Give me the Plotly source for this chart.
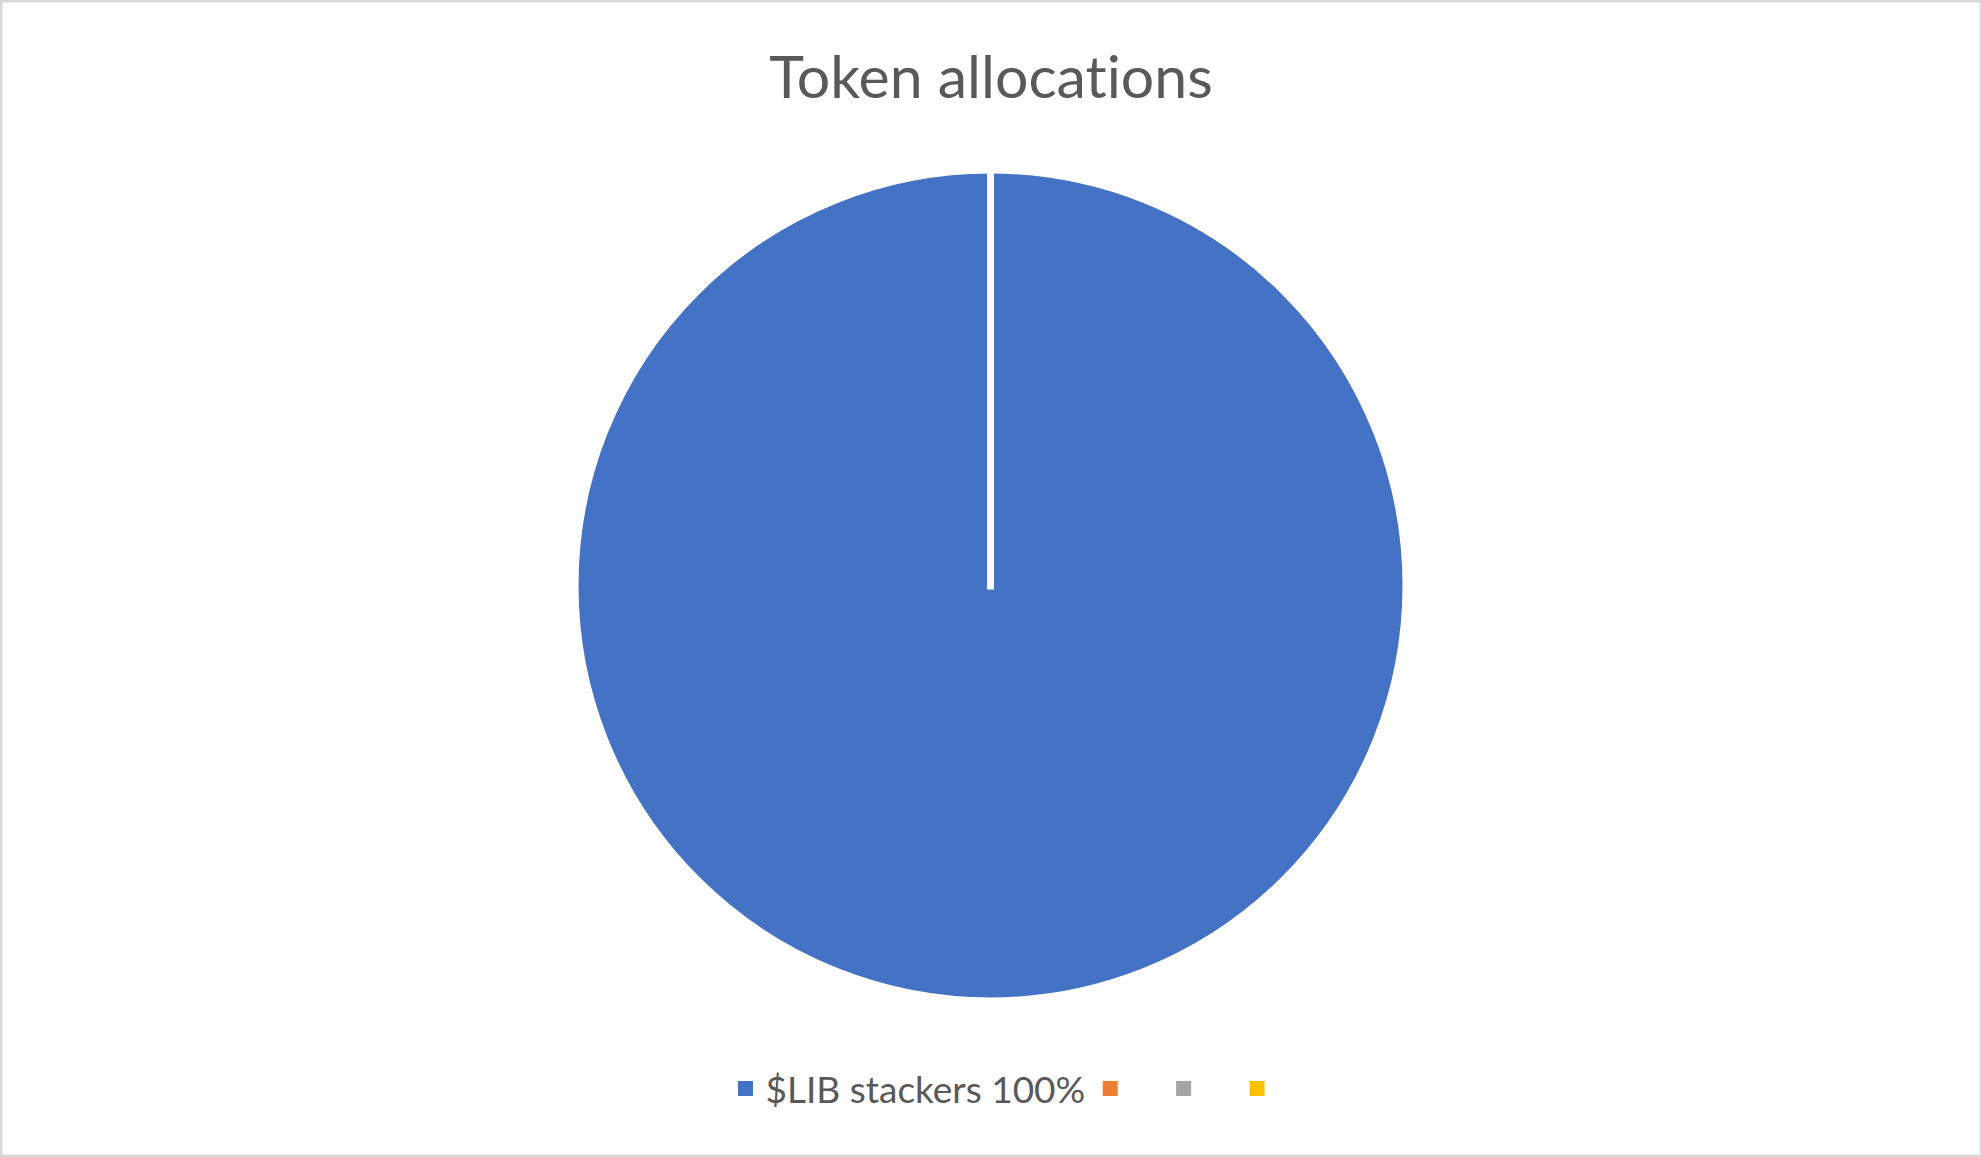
import plotly.graph_objects as go

# ---- data ----
# the three unnamed categories have blank (whitespace) labels, as in the reference
labels = ["$LIB stackers 100%", "   ", "\u00a0\u00a0\u00a0", " \u00a0 "]
values = [100, 0, 0, 0]
colors = ["#4472C4", "#ED7D31", "#A5A5A5", "#FFC000"]
title_text = "Token allocat\u200cions"  # ZWNJ stops the Lato "ti" ligature

# ---- layout geometry (pixels) ----
W, H = 1982, 1157
cx, cy, r = 990.5, 585.5, 410.5
dom_x = [(cx - r) / W, (cx + r) / W]
dom_y = [1 - (cy + r) / H, 1 - (cy - r) / H]

TEXT = "#595959"
FONT = "Lato, 'Open Sans', sans-serif"

fig = go.Figure(go.Pie(
    labels=labels,
    values=values,
    marker=dict(colors=colors, line=dict(width=3, color=colors)),
    sort=False,
    direction="clockwise",
    rotation=0,
    textinfo="none",
    hoverinfo="label+value",
    domain=dict(x=dom_x, y=dom_y),
    showlegend=True,
))

# white radial separator from centre to top (Excel draws slice border)
mid_x = (dom_x[0] + dom_x[1]) / 2
mid_y = (dom_y[0] + dom_y[1]) / 2
fig.add_shape(type="line", xref="paper", yref="paper",
              x0=mid_x, x1=mid_x, y0=mid_y - 4 / H, y1=dom_y[1] + 5 / H,
              line=dict(color="white", width=7), layer="above")

# chart area border
fig.add_shape(type="rect", xref="paper", yref="paper",
              x0=1.2 / W, x1=1 - 1.2 / W, y0=1.2 / H, y1=1 - 1.2 / H,
              line=dict(color="#D9D9D9", width=2.5), layer="above")

fig.update_layout(
    width=W, height=H,
    margin=dict(l=0, r=0, t=0, b=0, autoexpand=False),
    paper_bgcolor="white",
    plot_bgcolor="white",
    font=dict(family=FONT, color=TEXT),
    title=dict(text=title_text, x=0.5, xanchor="center",
               y=1 - 77 / H, yanchor="middle",
               font=dict(family=FONT, size=59, color=TEXT)),
    legend=dict(orientation="h", x=0.5 + 27 / W, xanchor="center",
                y=1 - 1089 / H, yanchor="middle",
                font=dict(family=FONT, size=37, color=TEXT),
                bgcolor="rgba(0,0,0,0)"),
)

fig.write_html("out.html",
               config={"displayModeBar": False},
               post_script="document.body.style.margin='0';"
                           "document.body.style.overflow='hidden';")
